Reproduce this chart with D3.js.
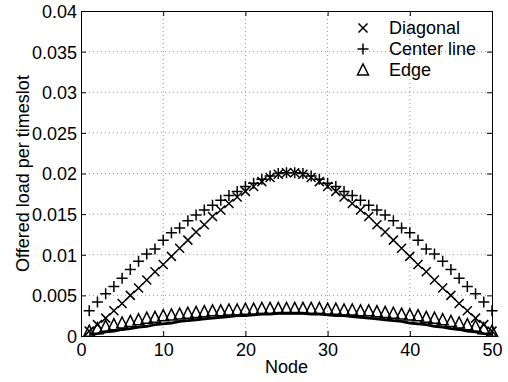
<!DOCTYPE html>
<html>
<head>
<meta charset="utf-8">
<script src="https://d3js.org/d3.v7.min.js"></script>
<style>
  body { margin: 0; background: #fff; }
  svg text { font-family: "Liberation Sans", Arial, Helvetica, sans-serif; fill: #000; }
</style>
</head>
<body>
<svg id="chart" width="508" height="382"></svg>
<script>
/********************* data *********************/
var nodes = d3.range(1, 51);

var diagonal = [
  0.0006, 0.0014, 0.0022, 0.0031, 0.0040, 0.0050, 0.0059, 0.0069, 0.0079, 0.0088,
  0.0098, 0.0108, 0.0118, 0.0128, 0.0137, 0.0147, 0.0155, 0.0163, 0.0171, 0.0178,
  0.0184, 0.0190, 0.0195, 0.0199, 0.0201, 0.0201, 0.0199, 0.0195, 0.0190, 0.0184,
  0.0178, 0.0171, 0.0163, 0.0155, 0.0147, 0.0137, 0.0128, 0.0118, 0.0108, 0.0098,
  0.0088, 0.0079, 0.0069, 0.0059, 0.0050, 0.0040, 0.0031, 0.0022, 0.0014, 0.0006
];

var centerLine = [
  0.0031, 0.0042, 0.0052, 0.0061, 0.0071, 0.0082, 0.0092, 0.0101, 0.0107, 0.0118,
  0.0127, 0.0133, 0.0142, 0.0149, 0.0155, 0.0161, 0.0167, 0.0173, 0.0178, 0.0184,
  0.0188, 0.0193, 0.0197, 0.0200, 0.0201, 0.0201, 0.0200, 0.0197, 0.0193, 0.0188,
  0.0184, 0.0178, 0.0173, 0.0167, 0.0161, 0.0155, 0.0149, 0.0142, 0.0133, 0.0127,
  0.0118, 0.0107, 0.0101, 0.0092, 0.0082, 0.0071, 0.0061, 0.0052, 0.0042, 0.0031
];

var edge = [
  0.0006, 0.0009, 0.0012, 0.0014, 0.0016, 0.0018, 0.0020, 0.0022, 0.0023, 0.0025,
  0.0026, 0.0027, 0.0028, 0.0029, 0.0030, 0.0031, 0.0031, 0.0032, 0.0032, 0.0033,
  0.0033, 0.0034, 0.0034, 0.0034, 0.0034, 0.0034, 0.0034, 0.0034, 0.0034, 0.0033,
  0.0033, 0.0032, 0.0032, 0.0031, 0.0031, 0.0030, 0.0029, 0.0028, 0.0027, 0.0026,
  0.0025, 0.0023, 0.0022, 0.0020, 0.0018, 0.0016, 0.0014, 0.0012, 0.0009, 0.0006
];

// lower edge band
var edgeLow = [
  0.0002, 0.0003, 0.0005, 0.0006, 0.0008, 0.0009, 0.0011, 0.0012, 0.0014, 0.0015,
  0.0016, 0.0018, 0.0019, 0.0020, 0.0021, 0.0022, 0.0023, 0.0024, 0.0025, 0.0025,
  0.0026, 0.0027, 0.0027, 0.0028, 0.0028, 0.0028, 0.0028, 0.0027, 0.0027, 0.0026,
  0.0025, 0.0025, 0.0024, 0.0023, 0.0022, 0.0021, 0.0020, 0.0019, 0.0018, 0.0016,
  0.0015, 0.0014, 0.0012, 0.0011, 0.0009, 0.0008, 0.0006, 0.0005, 0.0003, 0.0002
];

var xTicks = [0, 10, 20, 30, 40, 50];
var yTicks = [0, 0.005, 0.01, 0.015, 0.02, 0.025, 0.03, 0.035, 0.04];
var yTickLabels = ["0", "0.005", "0.01", "0.015", "0.02", "0.025", "0.03", "0.035", "0.04"];

var legendItems = [
  {name: "Diagonal", marker: "x"},
  {name: "Center line", marker: "plus"},
  {name: "Edge", marker: "tri"}
];

/********************* chart *********************/
var svg = d3.select("#chart"),
    margin = {top: 11, right: 16, bottom: 46, left: 81},
    width = +svg.attr("width") - margin.left - margin.right,
    height = +svg.attr("height") - margin.top - margin.bottom;

var x = d3.scaleLinear().domain([0, 50]).range([0, width]),
    y = d3.scaleLinear().domain([0, 0.04]).range([height, 0]);

var g = svg.append("g")
    .attr("transform", "translate(" + margin.left + "," + margin.top + ")");

// marker shapes
var markerPath = {
  x: "M-4.5,-4.5L4.5,4.5M-4.5,4.5L4.5,-4.5",
  plus: "M-5.5,0H5.5M0,-5.5V5.5",
  tri: "M0,-6L5.5,5L-5.5,5Z"
};

// grid
g.append("g").selectAll("line")
    .data(xTicks.slice(1, -1))
    .enter().append("line")
      .attr("x1", function(d) { return x(d); })
      .attr("x2", function(d) { return x(d); })
      .attr("y1", 0).attr("y2", height)
      .attr("stroke", "#999").attr("stroke-dasharray", "1,3");

g.append("g").selectAll("line")
    .data(yTicks.slice(1, -1))
    .enter().append("line")
      .attr("y1", function(d) { return y(d); })
      .attr("y2", function(d) { return y(d); })
      .attr("x1", 0).attr("x2", width)
      .attr("stroke", "#999").attr("stroke-dasharray", "1,3");

// axes (ticks inward, box on)
var xAxis = g.append("g")
    .attr("transform", "translate(0," + height + ")")
    .call(d3.axisBottom(x).tickValues(xTicks).tickSizeInner(-5).tickSizeOuter(0).tickPadding(7));

var yAxis = g.append("g")
    .call(d3.axisLeft(y).tickValues(yTicks).tickSizeInner(-5).tickSizeOuter(0).tickPadding(4)
      .tickFormat(function(d, i) { return yTickLabels[i]; }));
yAxis.selectAll("text").attr("dy", "0.36em");

g.append("g")
    .call(d3.axisTop(x).tickValues(xTicks).tickSizeInner(-5).tickSizeOuter(0).tickFormat(""));
g.append("g")
    .attr("transform", "translate(" + width + ",0)")
    .call(d3.axisRight(y).tickValues(yTicks).tickSizeInner(-5).tickSizeOuter(0).tickFormat(""));

g.selectAll(".domain").attr("stroke", "#000");
g.selectAll(".tick line").attr("stroke", "#000");
g.selectAll(".tick text").style("font-size", "18px").attr("fill", "#000");

// lower edge band
g.append("path")
    .datum(edgeLow)
    .attr("fill", "none")
    .attr("stroke", "#000")
    .attr("stroke-width", 2.8)
    .attr("d", d3.line()
      .x(function(d, i) { return x(nodes[i]); })
      .y(function(d) { return y(d); }));

// series markers
function drawSeries(values, marker) {
  g.append("g").selectAll("path")
      .data(values)
      .enter().append("path")
        .attr("d", markerPath[marker])
        .attr("transform", function(d, i) { return "translate(" + x(nodes[i]) + "," + y(d) + ")"; })
        .attr("fill", "none")
        .attr("stroke", "#000")
        .attr("stroke-width", 1.5);
}
drawSeries(edge, "tri");
drawSeries(diagonal, "x");
drawSeries(centerLine, "plus");

// axis labels
svg.append("text")
    .attr("x", margin.left + width / 2)
    .attr("y", 373)
    .attr("text-anchor", "middle")
    .style("font-size", "18px")
    .text("Node");

svg.append("text")
    .attr("transform", "translate(28.5," + (margin.top + height / 2) + ") rotate(-90)")
    .attr("text-anchor", "middle")
    .style("font-size", "18px")
    .text("Offered load per timeslot");

// legend (no box)
var legend = svg.append("g").attr("transform", "translate(363,28)");
var li = legend.selectAll("g")
    .data(legendItems)
    .enter().append("g")
      .attr("transform", function(d, i) { return "translate(0," + (i * 21) + ")"; });
li.append("path")
    .attr("d", function(d) { return markerPath[d.marker]; })
    .attr("fill", "none")
    .attr("stroke", "#000")
    .attr("stroke-width", 1.5);
li.append("text")
    .attr("x", 26)
    .attr("y", 6)
    .style("font-size", "18px")
    .text(function(d) { return d.name; });
</script>
</body>
</html>
